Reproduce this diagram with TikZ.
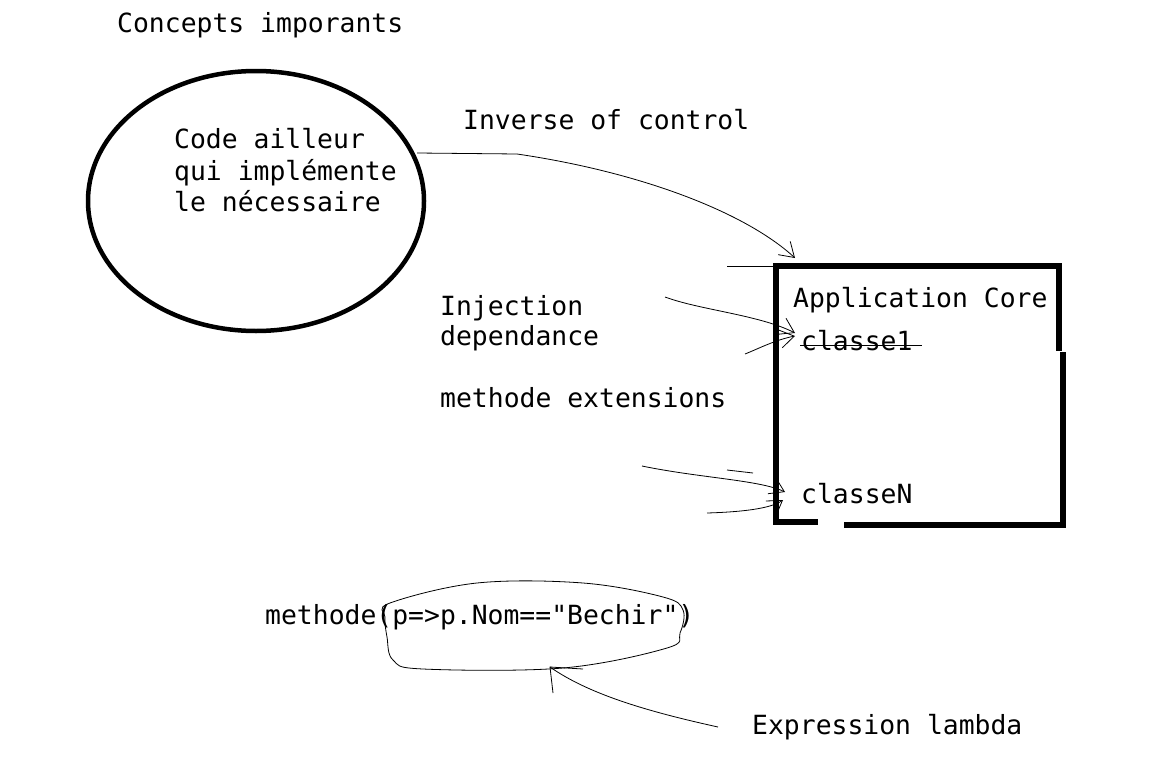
\documentclass[tikz,border=0pt]{standalone}
\usepackage{fontspec}
\setmonofont{DejaVu Sans Mono}
\usetikzlibrary{shapes.geometric,arrows.meta}
\tikzset{
  lbl/.style={anchor=base west, inner sep=0pt, font=\ttfamily\fontsize{26.4}{31}\selectfont},
  thin line/.style={line width=0.8pt, black},
  thick line/.style={line width=5.3pt, black, line cap=rect, line join=miter},
  barb/.style={-{Straight Barb[length=14pt,width=18pt,line width=0.8pt]}},
}
\begin{document}
\begin{tikzpicture}[x=1pt,y=-1pt]
\useasboundingbox[fill=white] (0,0) rectangle (1159,771);

% title
\node[lbl] (title) at (117,32) {Concepts imporants};

% ellipse
\node[draw, ellipse, line width=4.5pt, minimum width=336pt, minimum height=260pt, inner sep=0pt] (ell) at (256,201) {};
\node[lbl] (c1) at (174,148) {Code ailleur};
\node[lbl] (c2) at (174,180) {qui implémente};
\node[lbl] (c3) at (174,211) {le nécessaire};

% labels
\node[lbl] (ioc) at (463,129) {Inverse of control};
\node[lbl] (inj1) at (440,315) {Injection};
\node[lbl] (inj2) at (440,345) {dependance};
\node[lbl] (ext) at (440,407) {methode extensions};

% Application core box
\coordinate (bl1) at (815,522);
\coordinate (bl) at (776,522);
\coordinate (tl) at (776,266);
\coordinate (tr) at (1059,266);
\coordinate (tr2) at (1059,348);
\coordinate (rr1) at (1063,355);
\coordinate (br) at (1063,525);
\coordinate (bb) at (847,525);
\draw[thick line] (bl1) -- (bl) -- (tl) -- (tr) -- (tr2);
\draw[thick line] (rr1) -- (br) -- (bb);

\node[lbl] (app) at (793,307) {Application Core};
\node[lbl] (cl1) at (801,350) {classe1};
\node[lbl] (clN) at (801,503) {classeN};
\coordinate (st1) at (800,345);
\coordinate (st2) at (922,345);
\draw[thin line] (st1) -- (st2);

% Inverse of control arrow
\coordinate (ellE) at (417,153);
\coordinate (i1) at (517,154);
\coordinate (iT) at (795,258);
\draw[thin line, barb] (ellE) -- (i1) .. controls (640,172) and (745,212) .. (iT);
\coordinate (s1) at (727,266);
\draw[thin line] (s1) -- (tl);

% injection arrows
\coordinate (a1s) at (665,297);
\coordinate (a1t) at (795,333);
\draw[thin line, barb] (a1s) .. controls (700,310) and (760,315) .. (a1t);
\coordinate (a2s) at (745,354);
\coordinate (a2t) at (795,336);
\draw[thin line, barb] (a2s) .. controls (760,348) and (775,340) .. (a2t);

% classeN arrows
\coordinate (b1s) at (642,466);
\coordinate (b1t) at (785,492);
\draw[thin line, barb] (b1s) .. controls (700,478) and (760,480) .. (b1t);
\coordinate (b0s) at (727,470);
\coordinate (b0t) at (753,473);
\draw[thin line] (b0s) -- (b0t);
\coordinate (b2s) at (707,513);
\coordinate (b2t) at (783,500);
\draw[thin line, barb] (b2s) .. controls (740,512) and (770,509) .. (b2t);

% lambda
\node[lbl] (meth) at (265,624) {methode(p=>p.Nom=="Bechir")};
\draw[thin line] plot[smooth cycle, tension=0.6] coordinates {(390,603) (477,583) (583,583) (663,597) (683,610) (680,633) (667,648) (563,668) (423,669) (393,660) (387,637) (385,617)};
\node[lbl] (lam) at (752,734) {Expression lambda};
\coordinate (ls) at (718,727);
\coordinate (lt) at (550,667);
\draw[thin line] (ls) .. controls (650,712) and (590,695) .. (lt);
\coordinate (lb1) at (553,693);
\coordinate (lb2) at (583,669);
\draw[thin line] (lb1) -- (lt) -- (lb2);
\end{tikzpicture}
\end{document}
